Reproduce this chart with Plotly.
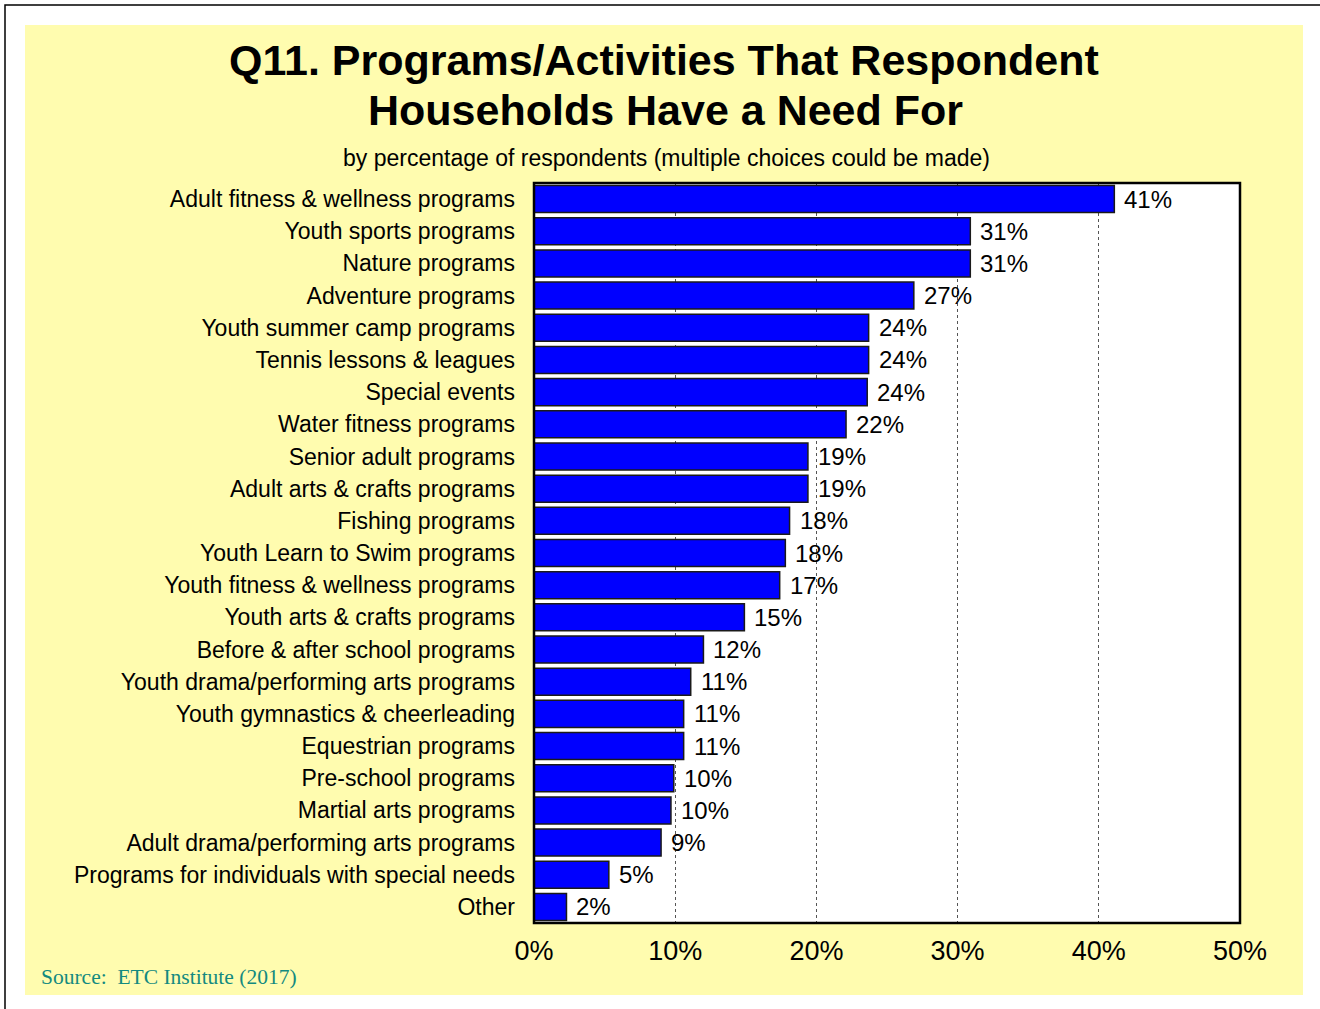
import plotly.graph_objects as go

# Survey results: share of respondent households needing each program (%)
categories = [
    "Adult fitness & wellness programs",
    "Youth sports programs",
    "Nature programs",
    "Adventure programs",
    "Youth summer camp programs",
    "Tennis lessons & leagues",
    "Special events",
    "Water fitness programs",
    "Senior adult programs",
    "Adult arts & crafts programs",
    "Fishing programs",
    "Youth Learn to Swim programs",
    "Youth fitness & wellness programs",
    "Youth arts & crafts programs",
    "Before & after school programs",
    "Youth drama/performing arts programs",
    "Youth gymnastics & cheerleading",
    "Equestrian programs",
    "Pre-school programs",
    "Martial arts programs",
    "Adult drama/performing arts programs",
    "Programs for individuals with special needs",
    "Other",
]
percentages = [41.1, 30.9, 30.9, 26.9, 23.7, 23.7, 23.6, 22.1, 19.4, 19.4,
               18.1, 17.8, 17.4, 14.9, 12.0, 11.1, 10.6, 10.6, 9.9, 9.7,
               9.0, 5.3, 2.3]
x_ticks = [0, 10, 20, 30, 40, 50]
x_tick_labels = ["0%", "10%", "20%", "30%", "40%", "50%"]

title_lines = ["Q11. Programs/Activities That Respondent", "Households Have a Need For"]
subtitle = "by percentage of respondents (multiple choices could be made)"
source_note = "Source:  ETC Institute (2017)"

W, H = 1320, 1009
PLOT_L, PLOT_R, PLOT_T, PLOT_B = 534, 1240, 183, 923
FONT = "Arial, Liberation Sans, sans-serif"


def px_x(px):
    return (px - PLOT_L) / (PLOT_R - PLOT_L)


def px_y(py):
    return (PLOT_B - py) / (PLOT_B - PLOT_T)


fig = go.Figure(
    go.Bar(
        x=percentages,
        y=categories,
        orientation="h",
        width=0.84,
        marker=dict(color="#0000FF", line=dict(color="#1a1a1a", width=1.5)),
        hoverinfo="x+y",
    )
)

# value labels to the right of each bar
annotations = []
for cat, val in zip(categories, percentages):
    annotations.append(dict(
        x=val, y=cat, xref="x", yref="y", text=f"{val:.0f}%",
        showarrow=False, xanchor="left", yanchor="middle", xshift=8,
        font=dict(family=FONT, size=24, color="#000000"),
    ))

# title, subtitle, source
annotations += [
    dict(x=px_x(664), y=px_y(60), xref="paper", yref="paper", text=title_lines[0],
         showarrow=False, xanchor="center", yanchor="middle",
         font=dict(family=FONT, size=43, color="#000000", weight="bold")),
    dict(x=px_x(665), y=px_y(110), xref="paper", yref="paper", text=title_lines[1],
         showarrow=False, xanchor="center", yanchor="middle",
         font=dict(family=FONT, size=43, color="#000000", weight="bold")),
    dict(x=px_x(666), y=px_y(158), xref="paper", yref="paper", text=subtitle,
         showarrow=False, xanchor="center", yanchor="middle",
         font=dict(family=FONT, size=23, color="#000000")),
    dict(x=px_x(39), y=px_y(977), xref="paper", yref="paper", text=source_note,
         showarrow=False, xanchor="left", yanchor="middle",
         font=dict(family="Times New Roman, Liberation Serif, serif", size=21.5, color="#138a80")),
]

shapes = [
    # outer frame (top and left edges visible)
    dict(type="rect", xref="paper", yref="paper", layer="below",
         x0=px_x(5), x1=px_x(1340), y0=px_y(1030), y1=px_y(5),
         line=dict(color="#000000", width=1.5), fillcolor="#FFFFFF"),
    # pale yellow chart area
    dict(type="rect", xref="paper", yref="paper", layer="below",
         x0=px_x(25), x1=px_x(1303), y0=px_y(995), y1=px_y(25),
         line=dict(width=0), fillcolor="#FFFCAF"),
    # white plotting area
    dict(type="rect", xref="paper", yref="paper", layer="below",
         x0=0, x1=1, y0=0, y1=1, line=dict(width=0), fillcolor="#FFFFFF"),
    # plot area border
    dict(type="rect", xref="paper", yref="paper", layer="above",
         x0=0, x1=1, y0=0, y1=1, line=dict(color="#000000", width=2.5)),
]

fig.update_layout(
    width=W, height=H,
    margin=dict(l=PLOT_L, r=W - PLOT_R, t=PLOT_T, b=H - PLOT_B, pad=0),
    paper_bgcolor="#FFFFFF",
    plot_bgcolor="rgba(0,0,0,0)",
    showlegend=False,
    bargap=0.16,
    annotations=annotations,
    shapes=shapes,
    font=dict(family=FONT, color="#000000"),
)

fig.update_xaxes(
    range=[0, 50], tickvals=x_ticks, ticktext=x_tick_labels,
    showgrid=True, gridcolor="#555555", gridwidth=1, griddash="3px,3px",
    zeroline=False, showline=False, ticks="",
    tickfont=dict(family=FONT, size=27, color="#000000"),
    ticklabelstandoff=9, fixedrange=True,
)
fig.update_yaxes(
    autorange="reversed", showgrid=False, zeroline=False, showline=False,
    ticks="", tickfont=dict(family=FONT, size=23, color="#000000"),
    ticklabelstandoff=18, fixedrange=True,
)

fig.write_html("out.html")
